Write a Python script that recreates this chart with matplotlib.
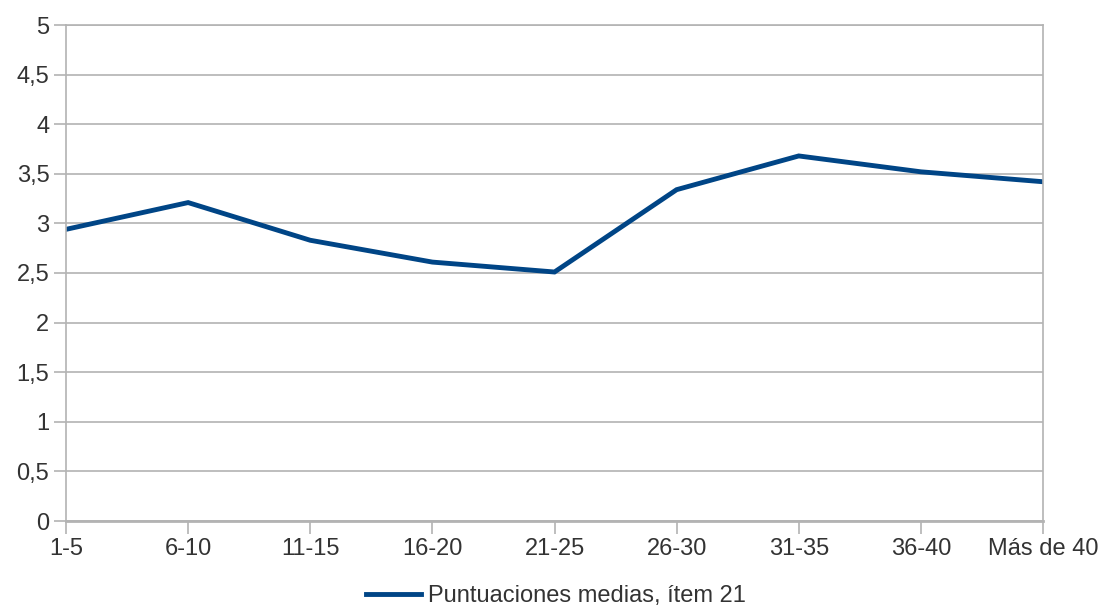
import matplotlib
matplotlib.use("Agg")
import matplotlib.pyplot as plt
from matplotlib.lines import Line2D

categories = ["1-5", "6-10", "11-15", "16-20", "21-25", "26-30", "31-35", "36-40", "Más de 40"]
values = [2.94, 3.21, 2.83, 2.61, 2.51, 3.34, 3.68, 3.52, 3.42]
y_ticks = [0, 0.5, 1, 1.5, 2, 2.5, 3, 3.5, 4, 4.5, 5]
y_tick_labels = ["0", "0,5", "1", "1,5", "2", "2,5", "3", "3,5", "4", "4,5", "5"]
series_name = "Puntuaciones medias, ítem 21"

plt.rcParams["font.family"] = ["Liberation Sans", "DejaVu Sans"]

fig = plt.figure(figsize=(11.04, 6.10), dpi=100)
ax = fig.add_axes([66 / 1104, 1 - 521 / 610, (1043 - 66) / 1104, (521 - 25) / 610])

grid_color = "#b3b3b3"
text_color = "#333333"
line_color = "#004586"
font_size = 17

x = list(range(len(categories)))
ax.plot(x, values, color=line_color, lw=3.5, solid_joinstyle="miter")

ax.set_xlim(0, len(categories) - 1)
ax.set_ylim(0, 5)
ax.set_yticks(y_ticks)
ax.set_yticklabels(y_tick_labels)
ax.set_xticks(x)
ax.set_xticklabels(categories)

ax.yaxis.grid(True, color=grid_color, lw=1.2)
ax.set_axisbelow(True)

for side in ["top", "right"]:
    ax.spines[side].set_visible(True)
    ax.spines[side].set_color(grid_color)
    ax.spines[side].set_linewidth(1.2)
ax.spines["left"].set_color(grid_color)
ax.spines["left"].set_linewidth(1.2)
ax.spines["bottom"].set_color(grid_color)
ax.spines["bottom"].set_linewidth(2)

ax.tick_params(axis="both", colors=grid_color, labelcolor=text_color,
               labelsize=font_size, length=9, width=1.2, direction="out")
ax.tick_params(axis="y", pad=3)
ax.tick_params(axis="x", pad=3)

handle = Line2D([], [], color=line_color, lw=3.5)
fig.legend([handle], [series_name], loc="center", bbox_to_anchor=(556 / 1104, 1 - 596 / 610),
           frameon=False, fontsize=font_size, handlelength=2.3, handletextpad=0.3,
           labelcolor=text_color)

fig.savefig("out.png", dpi=100, facecolor="white")
